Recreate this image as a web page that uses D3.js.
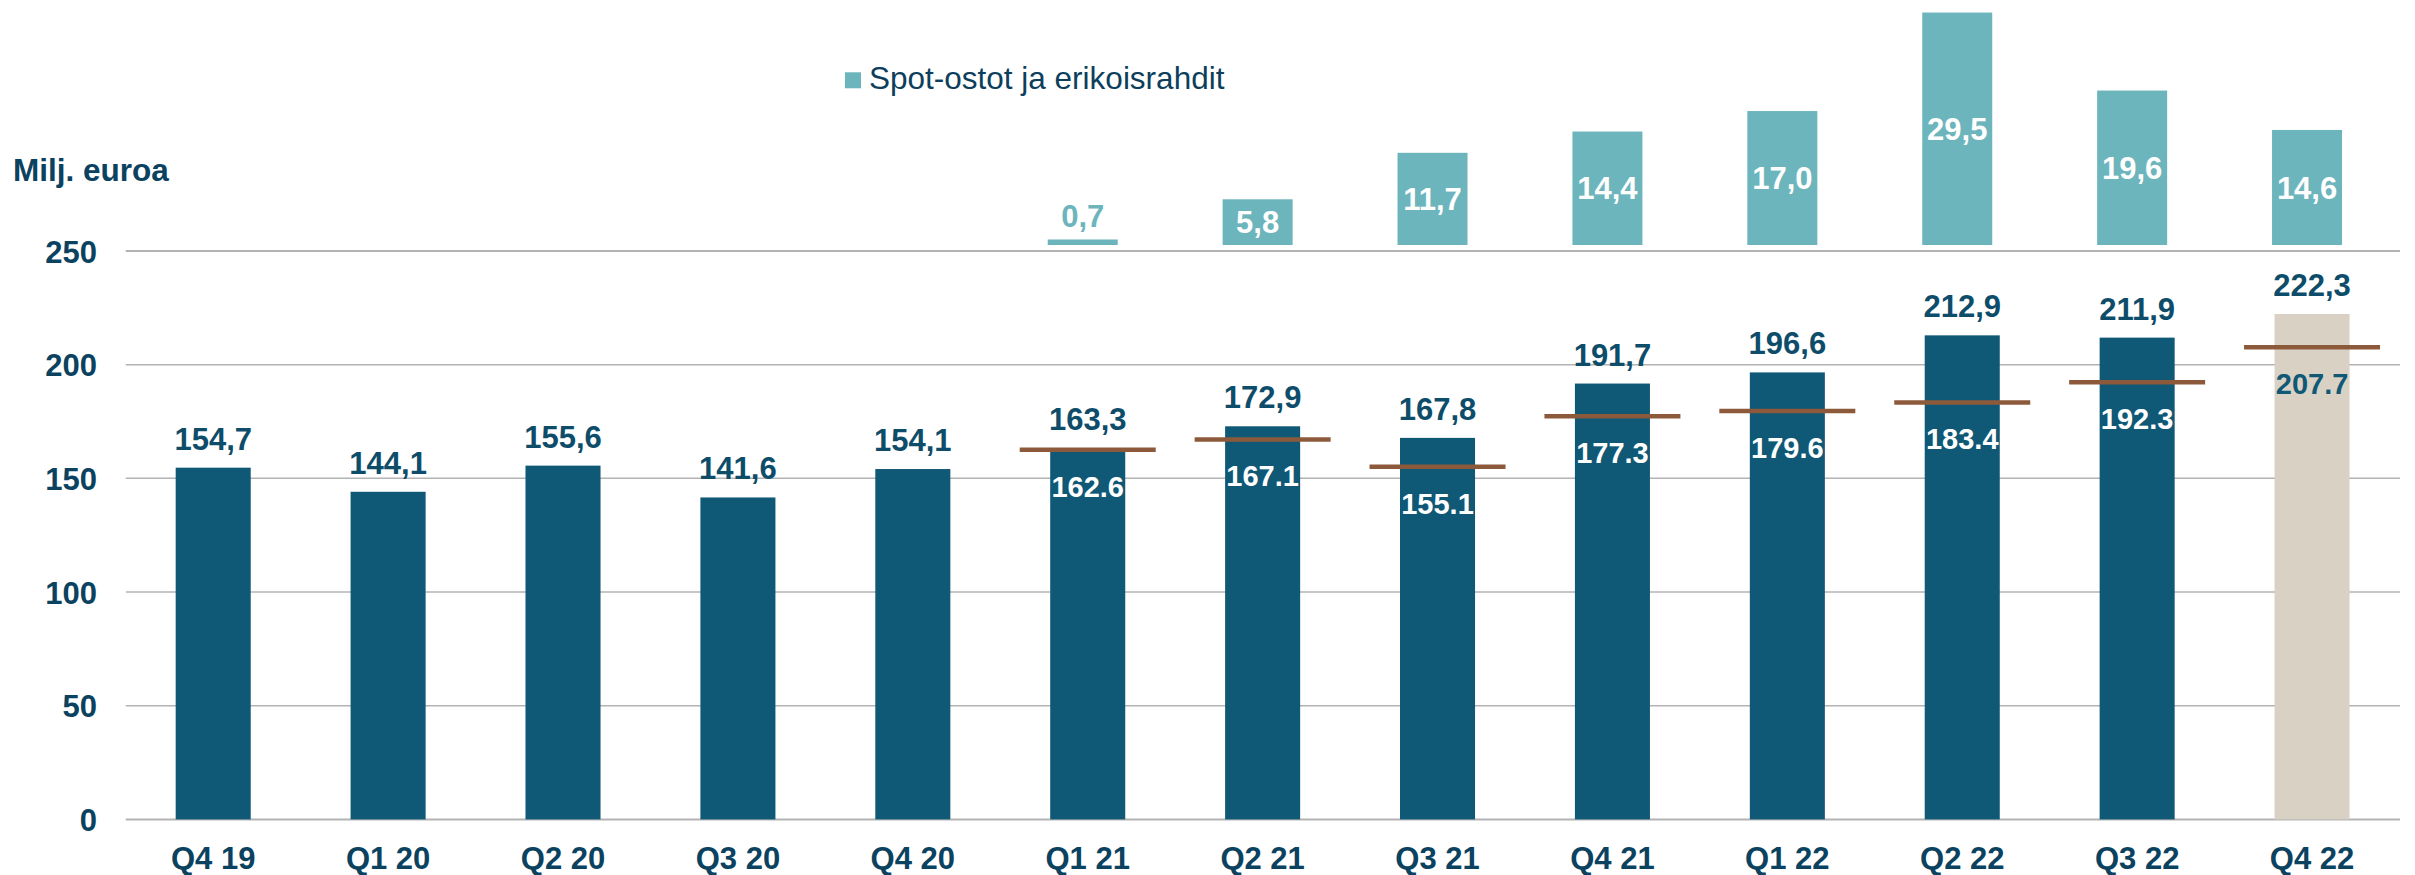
<!DOCTYPE html>
<html><head><meta charset="utf-8">
<script src="https://cdn.jsdelivr.net/npm/d3@7"></script>
<style>
html,body{margin:0;padding:0;background:#fff;}
svg{display:block;font-family:"Liberation Sans",Arial,sans-serif;}
</style></head>
<body>
<svg id="chart" width="2415" height="875"></svg>
<script>
const categories = ["Q4 19","Q1 20","Q2 20","Q3 20","Q4 20","Q1 21","Q2 21","Q3 21","Q4 21","Q1 22","Q2 22","Q3 22","Q4 22"];
const revenue = [154.7,144.1,155.6,141.6,154.1,163.3,172.9,167.8,191.7,196.6,212.9,211.9,222.3];
const revenueLabels = ["154,7","144,1","155,6","141,6","154,1","163,3","172,9","167,8","191,7","196,6","212,9","211,9","222,3"];
const markerCats = ["Q1 21","Q2 21","Q3 21","Q4 21","Q1 22","Q2 22","Q3 22","Q4 22"];
const markerValues = [162.6,167.1,155.1,177.3,179.6,183.4,192.3,207.7];
const markerLabels = ["162.6","167.1","155.1","177.3","179.6","183.4","192.3","207.7"];
const spotCats = ["Q1 21","Q2 21","Q3 21","Q4 21","Q1 22","Q2 22","Q3 22","Q4 22"];
const spotValues = [0.7,5.8,11.7,14.4,17.0,29.5,19.6,14.6];
const spotLabels = ["0,7","5,8","11,7","14,4","17,0","29,5","19,6","14,6"];
const yTicks = [0,50,100,150,200,250];
const legendLabel = "Spot-ostot ja erikoisrahdit";
const unitLabel = "Milj. euroa";
const highlightCat = "Q4 22";

const C = {bar:"#0f5876", beige:"#d9d1c4", spot:"#6db5bc", text:"#0e4d6a", axis:"#0b4260", grid:"#b3b3b3", brown:"#8c5a3a"};

const svg = d3.select("#chart");
const x = d3.scaleBand().domain(categories).range([125.75, 2399.5]).paddingInner(0.571).paddingOuter(0.2855);
const y = d3.scaleLinear().domain([0,250]).range([819.4, 251.0]);
const ys = d3.scaleLinear().domain([0,30]).range([245, 8.6]);
const cx = c => x(c) + x.bandwidth()/2;

// gridlines
svg.append("g").selectAll("line").data(yTicks).join("line")
  .attr("x1",125.75).attr("x2",2400)
  .attr("y1",d=>y(d)).attr("y2",d=>y(d))
  .attr("stroke",C.grid).attr("stroke-width",d=>(d===0||d===250)?2:1.5);

// y axis labels
const yAxis = d3.axisLeft(y).tickValues(yTicks).tickSize(0).tickPadding(0);
const ga = svg.append("g").attr("transform","translate(97,0)").call(yAxis);
ga.select(".domain").remove();
ga.selectAll("text").attr("font-size",31).attr("font-weight","bold").attr("fill",C.axis)
  .attr("font-family","Liberation Sans, Arial, sans-serif").attr("dy","0.36em");

// x axis labels
const xAxis = d3.axisBottom(x).tickSize(0).tickPadding(0);
const gx = svg.append("g").attr("transform","translate(0,869)").call(xAxis);
gx.select(".domain").remove();
gx.selectAll("text").attr("font-size",31).attr("font-weight","bold").attr("fill",C.axis)
  .attr("font-family","Liberation Sans, Arial, sans-serif").attr("dy",0).attr("y",0);

// main bars
svg.append("g").selectAll("rect").data(categories).join("rect")
  .attr("x",c=>x(c)).attr("width",x.bandwidth())
  .attr("y",(c,i)=>y(revenue[i])).attr("height",(c,i)=>y(0)-y(revenue[i]))
  .attr("fill",c=>c===highlightCat?C.beige:C.bar);

// main value labels
svg.append("g").selectAll("text").data(categories).join("text")
  .attr("x",cx).attr("y",(c,i)=>y(revenue[i])-18)
  .attr("text-anchor","middle").attr("font-size",31).attr("font-weight","bold")
  .attr("fill",C.text).text((c,i)=>revenueLabels[i]);

// markers (brown lines)
svg.append("g").selectAll("line").data(markerCats).join("line")
  .attr("x1",c=>cx(c)-68).attr("x2",c=>cx(c)+68)
  .attr("y1",(c,i)=>y(markerValues[i])).attr("y2",(c,i)=>y(markerValues[i]))
  .attr("stroke",C.brown).attr("stroke-width",4.5);
svg.append("g").selectAll("text").data(markerCats).join("text")
  .attr("x",cx).attr("y",(c,i)=>y(markerValues[i])+47)
  .attr("text-anchor","middle").attr("font-size",29).attr("font-weight","bold")
  .attr("fill",c=>c===highlightCat?C.bar:"#ffffff").text((c,i)=>markerLabels[i]);

// spot bars
const spotW = 70;
svg.append("g").selectAll("rect").data(spotCats).join("rect")
  .attr("x",c=>cx(c)-5-spotW/2).attr("width",spotW)
  .attr("y",(c,i)=>ys(spotValues[i])).attr("height",(c,i)=>ys(0)-ys(spotValues[i]))
  .attr("fill",C.spot);
svg.append("g").selectAll("text").data(spotCats).join("text")
  .attr("x",c=>cx(c)-5)
  .attr("y",(c,i)=>{const h=ys(0)-ys(spotValues[i]); return h<30 ? ys(spotValues[i])-12 : (ys(spotValues[i])+ys(0))/2;})
  .attr("dy",(c,i)=>(ys(0)-ys(spotValues[i]))<30?0:"0.36em")
  .attr("text-anchor","middle").attr("font-size",31).attr("font-weight","bold")
  .attr("fill",(c,i)=>(ys(0)-ys(spotValues[i]))<30?C.spot:"#ffffff")
  .text((c,i)=>spotLabels[i]);

// legend
svg.append("rect").attr("x",845).attr("y",72.3).attr("width",16).attr("height",16).attr("fill",C.spot);
svg.append("text").attr("x",869).attr("y",89).attr("font-size",31.5).attr("fill","#0d3f5c").text(legendLabel);

// unit label
svg.append("text").attr("x",13).attr("y",180.7).attr("font-size",31.5).attr("font-weight","bold").attr("fill",C.axis).text(unitLabel);
</script>
</body></html>
